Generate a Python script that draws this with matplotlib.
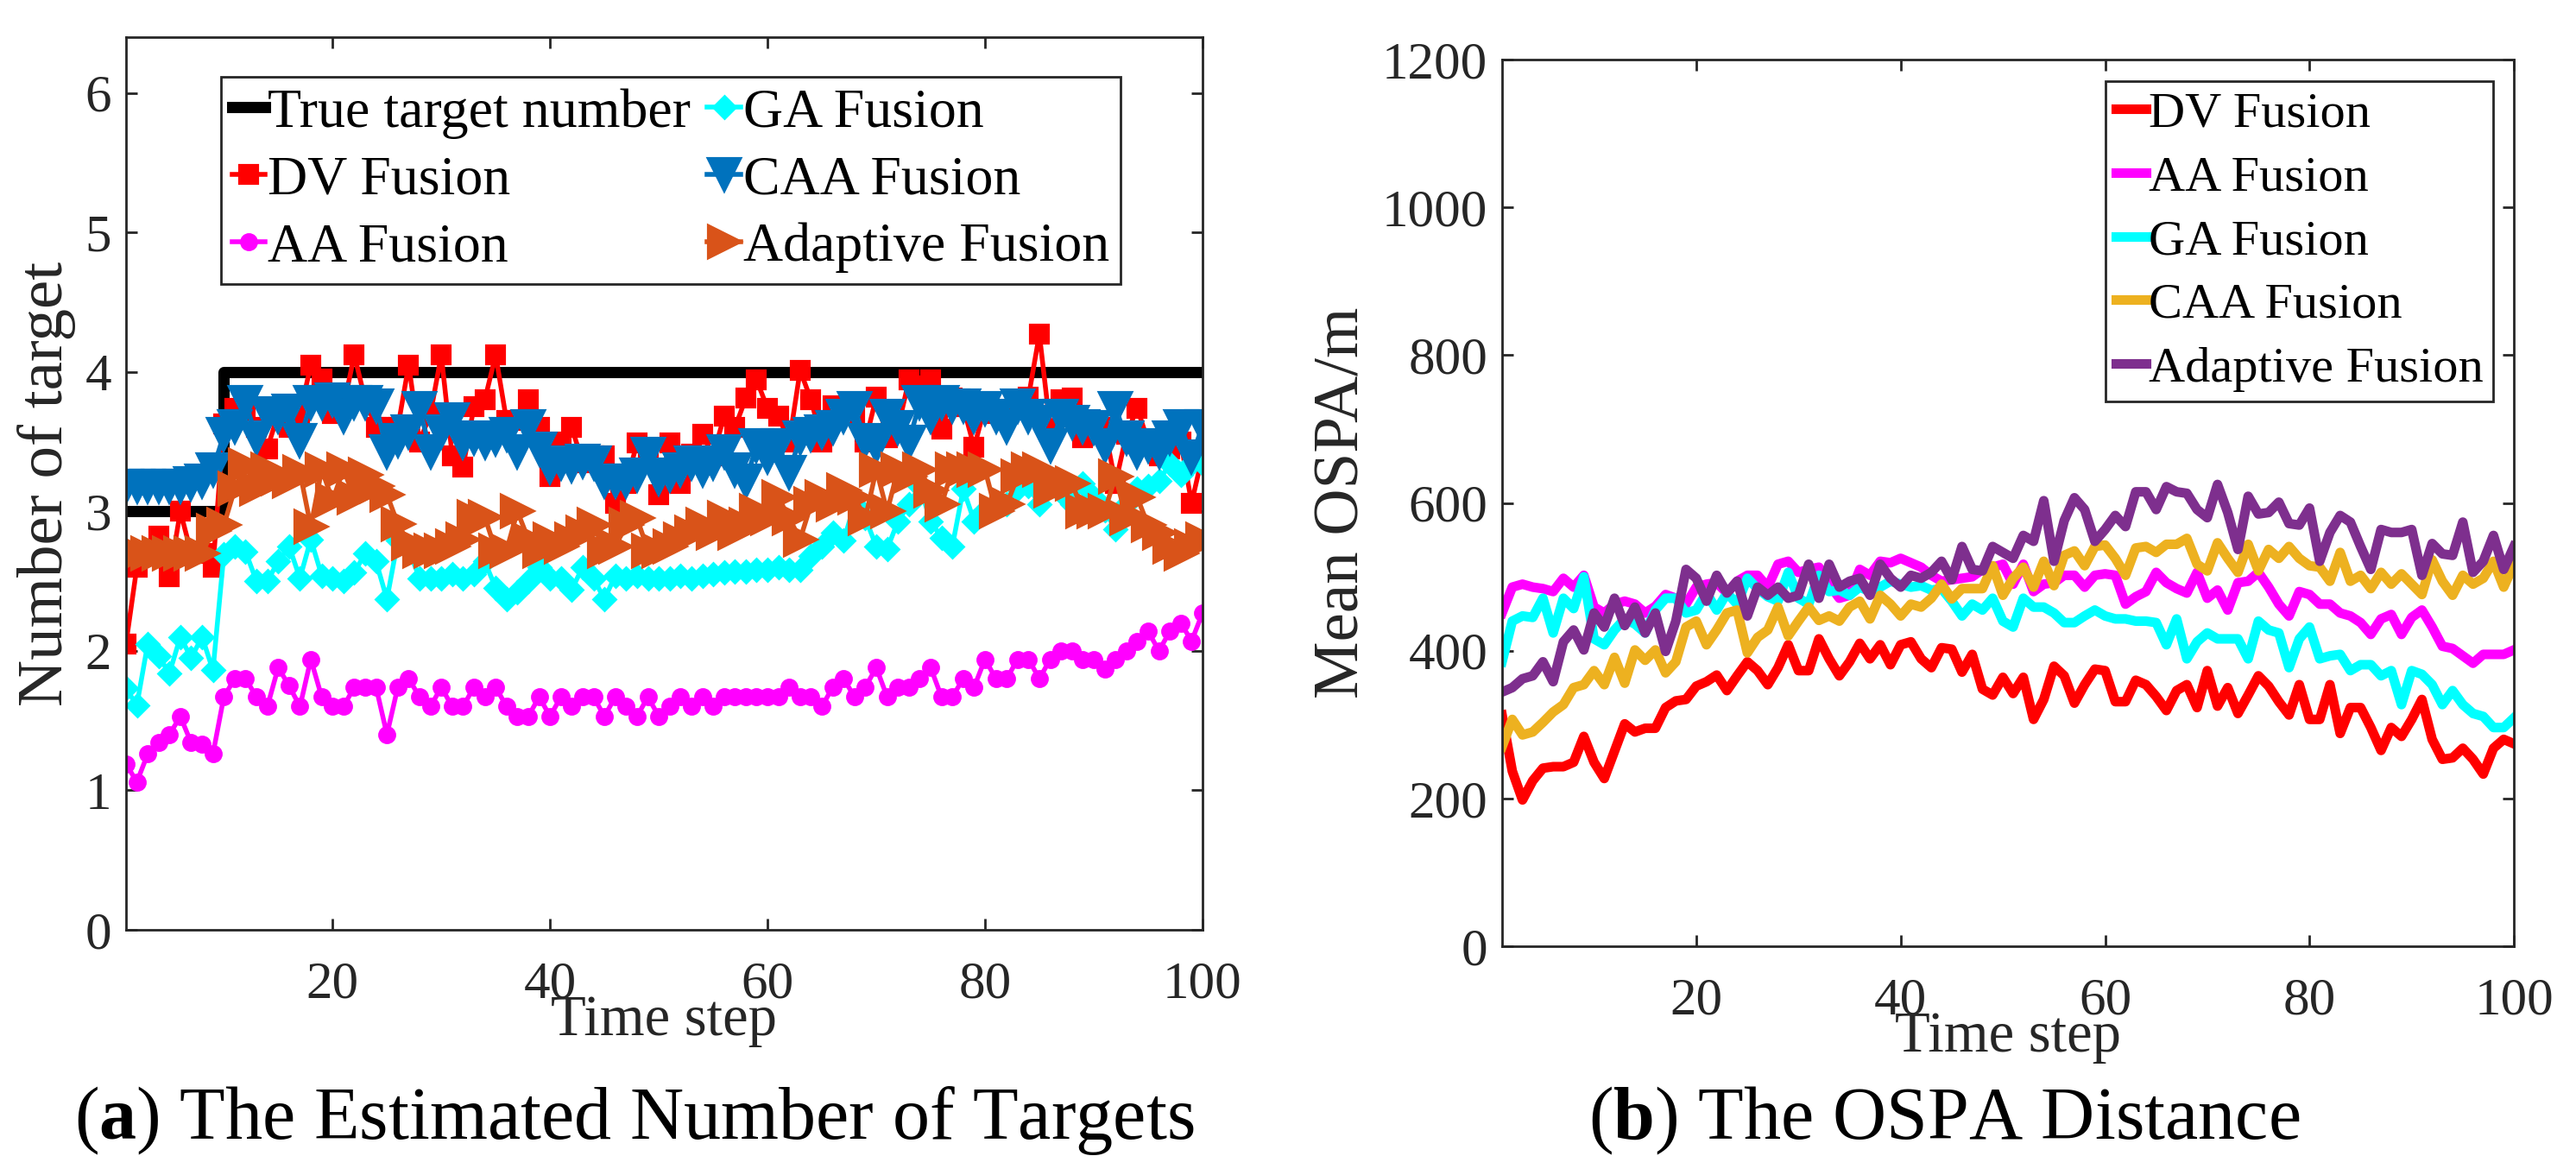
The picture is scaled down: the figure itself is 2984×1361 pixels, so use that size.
import matplotlib
matplotlib.use("Agg")
import matplotlib.pyplot as plt

# pas de temps
temps = list(range(1, 101))

# (a) nombre de cibles estime
vrai_nombre = [3] * 9 + [4] * 91
dv_nombre = [2.05, 2.6, 2.7, 2.82, 2.53, 3.0, 2.7, 2.7, 2.6, 3.63,
             3.74, 3.7, 3.6, 3.45, 3.7, 3.6, 3.7, 4.05, 3.95, 3.7,
             3.75, 4.12, 3.8, 3.6, 3.6, 3.6, 4.05, 3.5, 3.7, 4.12,
             3.4, 3.32, 3.75, 3.8, 4.12, 3.65, 3.65, 3.8, 3.6, 3.25,
             3.5, 3.6, 3.35, 3.4, 3.4, 3.06, 3.2, 3.49, 3.35, 3.12,
             3.49, 3.2, 3.41, 3.55, 3.4, 3.68, 3.6, 3.81, 3.94, 3.74,
             3.68, 3.5, 4.01, 3.8, 3.5, 3.76, 3.7, 3.7, 3.5, 3.82,
             3.53, 3.6, 3.94, 3.9, 3.94, 3.59, 3.81, 3.75, 3.46, 3.75,
             3.7, 3.7, 3.75, 3.82, 4.27, 3.59, 3.8, 3.81, 3.53, 3.55,
             3.6, 3.2, 3.55, 3.74, 3.5, 3.4, 3.45, 3.5, 3.06, 3.4]
aa_nombre = [1.19, 1.06, 1.26, 1.34, 1.40, 1.53, 1.34, 1.33, 1.26, 1.67,
             1.8, 1.8, 1.67, 1.6, 1.88, 1.75, 1.6, 1.94, 1.67, 1.6,
             1.6, 1.74, 1.74, 1.74, 1.40, 1.74, 1.8, 1.67, 1.6, 1.74,
             1.6, 1.6, 1.74, 1.67, 1.74, 1.6, 1.53, 1.53, 1.67, 1.53,
             1.67, 1.6, 1.67, 1.67, 1.53, 1.67, 1.6, 1.53, 1.67, 1.53,
             1.6, 1.67, 1.6, 1.67, 1.6, 1.67, 1.67, 1.67, 1.67, 1.67,
             1.67, 1.74, 1.67, 1.67, 1.6, 1.74, 1.8, 1.67, 1.74, 1.88,
             1.67, 1.74, 1.74, 1.8, 1.88, 1.67, 1.67, 1.8, 1.74, 1.94,
             1.8, 1.8, 1.94, 1.94, 1.8, 1.94, 2.0, 2.0, 1.94, 1.94,
             1.87, 1.94, 2.0, 2.07, 2.14, 2.0, 2.14, 2.2, 2.07, 2.27]
ga_nombre = [1.73, 1.61, 2.05, 1.96, 1.84, 2.1, 1.95, 2.1, 1.86, 2.69,
             2.75, 2.71, 2.5, 2.5, 2.64, 2.75, 2.52, 2.8, 2.54, 2.52,
             2.5, 2.56, 2.7, 2.64, 2.37, 2.79, 2.73, 2.52, 2.52, 2.52,
             2.55, 2.52, 2.55, 2.64, 2.45, 2.37, 2.42, 2.5, 2.6, 2.52,
             2.52, 2.44, 2.6, 2.52, 2.37, 2.54, 2.52, 2.54, 2.52, 2.52,
             2.52, 2.54, 2.52, 2.54, 2.55, 2.56, 2.57, 2.57, 2.58, 2.58,
             2.6, 2.58, 2.58, 2.68, 2.75, 2.85, 2.79, 3.05, 2.95, 2.75,
             2.73, 2.93, 3.05, 3.18, 2.93, 2.81, 2.75, 3.16, 2.93, 3.01,
             3.05, 3.05, 3.16, 3.18, 3.05, 3.18, 3.14, 3.05, 3.2, 3.1,
             3.01, 2.87, 3.05, 3.16, 3.18, 3.22, 3.34, 3.26, 3.34, 3.34]
caa_nombre = [3.18, 3.18, 3.18, 3.18, 3.18, 3.18, 3.2, 3.22, 3.3, 3.55,
              3.61, 3.78, 3.53, 3.7, 3.68, 3.72, 3.51, 3.78, 3.78, 3.8,
              3.68, 3.78, 3.78, 3.76, 3.43, 3.51, 3.57, 3.74, 3.43, 3.57,
              3.66, 3.5, 3.53, 3.5, 3.52, 3.55, 3.43, 3.61, 3.45, 3.32,
              3.35, 3.33, 3.36, 3.35, 3.22, 3.22, 3.22, 3.26, 3.41, 3.24,
              3.26, 3.3, 3.35, 3.3, 3.35, 3.43, 3.3, 3.22, 3.47, 3.39,
              3.47, 3.28, 3.53, 3.55, 3.57, 3.6, 3.68, 3.74, 3.51, 3.47,
              3.68, 3.6, 3.5, 3.78, 3.68, 3.78, 3.76, 3.76, 3.68, 3.74,
              3.68, 3.61, 3.76, 3.68, 3.64, 3.47, 3.68, 3.64, 3.61, 3.6,
              3.47, 3.74, 3.53, 3.43, 3.47, 3.43, 3.53, 3.61, 3.39, 3.61]
adapt_nombre = [2.7, 2.7, 2.7, 2.7, 2.7, 2.7, 2.7, 2.7, 2.86, 2.9,
                3.16, 3.33, 3.16, 3.3, 3.24, 3.22, 3.28, 2.89, 3.3, 3.08,
                3.3, 3.1, 3.26, 3.18, 3.12, 2.91, 2.77, 2.72, 2.72, 2.72,
                2.75, 2.8, 2.96, 2.96, 2.72, 2.72, 3.0, 2.8, 2.72, 2.8,
                2.75, 2.8, 2.85, 2.9, 2.72, 2.75, 2.9, 2.95, 2.72, 2.72,
                2.75, 2.8, 2.85, 2.9, 2.85, 2.95, 2.85, 2.9, 3.0, 2.95,
                3.1, 2.95, 2.8, 3.05, 3.1, 3.05, 3.15, 3.1, 2.95, 3.3,
                3.0, 3.3, 3.25, 3.3, 3.15, 3.05, 3.3, 3.3, 3.3, 3.3,
                3.0, 3.05, 3.25, 3.3, 3.3, 3.15, 3.2, 3.2, 3.0, 3.0,
                3.0, 3.25, 2.95, 3.1, 2.9, 2.85, 2.75, 2.7, 2.75, 2.8]

# (b) distance OSPA moyenne
dv_ospa = [313, 237, 198, 224, 241, 243, 243, 249, 284, 249,
           227, 264, 301, 290, 295, 295, 323, 332, 334, 352,
           358, 367, 346, 366, 385, 373, 354, 377, 408, 373,
           373, 416, 389, 366, 385, 410, 389, 408, 381, 408,
           412, 389, 377, 404, 402, 371, 395, 348, 340, 364,
           342, 364, 307, 334, 379, 366, 329, 354, 375, 373,
           331, 331, 360, 354, 338, 319, 346, 354, 323, 373,
           325, 350, 315, 340, 366, 352, 331, 313, 354, 307,
           307, 354, 288, 323, 323, 296, 265, 296, 284, 307,
           334, 280, 253, 255, 268, 253, 233, 268, 280, 274]
aa_ospa = [451, 486, 490, 486, 484, 480, 498, 486, 502, 459,
           451, 463, 467, 463, 451, 460, 476, 471, 463, 486,
           490, 492, 478, 494, 502, 502, 486, 517, 521, 506,
           510, 513, 490, 471, 475, 510, 502, 521, 519, 525,
           519, 513, 502, 494, 496, 498, 500, 510, 513, 517,
           490, 517, 480, 490, 492, 502, 502, 486, 502, 504,
           502, 463, 473, 480, 506, 492, 484, 478, 506, 471,
           482, 455, 492, 494, 506, 486, 463, 447, 480, 476,
           463, 463, 451, 447, 438, 422, 443, 449, 422, 445,
           455, 432, 406, 403, 393, 383, 395, 395, 395, 401]
ga_ospa = [385, 440, 447, 445, 471, 424, 471, 457, 500, 416,
           408, 428, 443, 436, 424, 455, 471, 471, 451, 455,
           478, 455, 478, 463, 498, 484, 473, 467, 506, 471,
           463, 502, 480, 482, 475, 486, 480, 486, 494, 490,
           486, 488, 482, 484, 467, 447, 463, 455, 471, 440,
           432, 471, 459, 459, 451, 438, 438, 447, 455, 447,
           443, 443, 440, 440, 438, 408, 443, 389, 412, 424,
           416, 416, 416, 389, 440, 428, 424, 377, 416, 432,
           389, 393, 395, 373, 381, 381, 366, 373, 327, 373,
           368, 354, 327, 346, 327, 315, 311, 296, 296, 309]
caa_ospa = [270, 307, 286, 290, 303, 317, 327, 350, 354, 373,
            354, 391, 356, 401, 387, 401, 370, 385, 432, 440,
            408, 428, 451, 455, 397, 418, 428, 459, 420, 440,
            459, 441, 447, 440, 459, 467, 443, 475, 463, 447,
            463, 459, 471, 490, 470, 484, 484, 484, 515, 475,
            498, 513, 486, 521, 488, 529, 535, 515, 541, 543,
            525, 502, 539, 541, 533, 544, 544, 552, 517, 508,
            546, 525, 506, 544, 508, 537, 525, 541, 525, 515,
            513, 494, 533, 494, 502, 484, 506, 490, 504, 490,
            476, 523, 494, 475, 502, 490, 498, 521, 486, 517]
adapt_ospa = [344, 350, 362, 366, 385, 358, 412, 428, 401, 451,
              432, 471, 434, 459, 424, 451, 399, 440, 510, 498,
              467, 502, 478, 494, 447, 486, 475, 486, 471, 475,
              517, 471, 517, 486, 494, 498, 475, 517, 498, 486,
              502, 498, 506, 521, 496, 541, 510, 508, 541, 533,
              525, 556, 548, 603, 521, 576, 607, 591, 548, 564,
              583, 568, 615, 615, 591, 622, 615, 613, 591, 580,
              625, 587, 537, 609, 585, 587, 601, 572, 570, 593,
              521, 560, 583, 574, 541, 510, 564, 560, 560, 564,
              502, 545, 531, 529, 574, 506, 521, 556, 510, 541]

# Style general (proche du rendu MATLAB)
plt.rcParams["font.family"] = "Liberation Serif"
plt.rcParams["mathtext.fontset"] = "custom"
plt.rcParams["mathtext.rm"] = "Liberation Serif"
plt.rcParams["mathtext.bf"] = "Liberation Serif:bold"
gris = "#262626"

fig = plt.figure(figsize=(14.92, 6.805), dpi=200)
ax1 = fig.add_axes([0.0489, 0.2087, 0.4179, 0.7597])
ax2 = fig.add_axes([0.5831, 0.1947, 0.3928, 0.7546])

# 1. Nombre de cibles
ax1.plot(temps, vrai_nombre, color="black", lw=4.7, drawstyle="steps-post",
         label="True target number")
ax1.plot(temps, dv_nombre, color="#FF0000", lw=2, marker="s", ms=7.5, mew=1.5,
         label="DV Fusion")
ax1.plot(temps, aa_nombre, color="#FF00FF", lw=2, marker="o", ms=6.5, mew=1,
         label="AA Fusion")
ax1.plot(temps, ga_nombre, color="#00FFFF", lw=2, marker="D", ms=6.5, mew=1,
         label="GA Fusion")
ax1.plot(temps, caa_nombre, color="#0072BD", lw=2, marker="v", ms=13, mew=1.5,
         label="CAA Fusion")
ax1.plot(temps, adapt_nombre, color="#D95319", lw=2, marker=">", ms=13, mew=1.5,
         label="Adaptive Fusion")
ax1.set_xlim(1, 100)
ax1.set_ylim(0, 6.4)
ax1.set_yticks([0, 1, 2, 3, 4, 5, 6])
ax1.set_xticks([20, 40, 60, 80, 100])
ax1.set_xlabel("Time step", fontsize=24, color=gris, labelpad=-6)
ax1.set_ylabel("Number of target", fontsize=27, color=gris)
leg1 = ax1.legend(ncol=2, loc="upper left", bbox_to_anchor=(0.0858, 0.9346),
                  bbox_transform=fig.transFigure, fontsize=23, numpoints=1,
                  handlelength=0.6, handletextpad=0.05, columnspacing=0.3,
                  labelspacing=0.3, borderpad=0.2, borderaxespad=0,
                  fancybox=False, framealpha=1)
leg1.get_frame().set_edgecolor(gris)
leg1.get_frame().set_linewidth(1)

# 2. Distance OSPA
ax2.plot(temps, dv_ospa, color="#FF0000", lw=4, label="DV Fusion")
ax2.plot(temps, aa_ospa, color="#FF00FF", lw=4, label="AA Fusion")
ax2.plot(temps, ga_ospa, color="#00FFFF", lw=4, label="GA Fusion")
ax2.plot(temps, caa_ospa, color="#EDB120", lw=4, label="CAA Fusion")
ax2.plot(temps, adapt_ospa, color="#7E2F8E", lw=4, label="Adaptive Fusion")
ax2.set_xlim(1, 100)
ax2.set_ylim(0, 1200)
ax2.set_yticks([0, 200, 400, 600, 800, 1000, 1200])
ax2.set_xticks([20, 40, 60, 80, 100])
ax2.set_xlabel("Time step", fontsize=24, color=gris, labelpad=-6)
ax2.set_ylabel("Mean OSPA/m", fontsize=27, color=gris)
leg2 = ax2.legend(loc="upper left", bbox_to_anchor=(0.8174, 0.931),
                  bbox_transform=fig.transFigure, fontsize=21,
                  handlelength=0.6, handletextpad=0.05, labelspacing=0.36,
                  borderpad=0.2, borderaxespad=0, fancybox=False, framealpha=1)
leg2.get_frame().set_edgecolor(gris)
leg2.get_frame().set_linewidth(1)

for ax in (ax1, ax2):
    ax.tick_params(direction="in", top=True, right=True, length=4.8, width=1,
                   labelsize=22, colors=gris, pad=6)
    ax.tick_params(axis="x", pad=13)
    for s in ax.spines.values():
        s.set_color(gris)
        s.set_linewidth(1)

# legendes des sous-figures
fig.text(0.2463, 0.0463, r"($\mathbf{a}$) The Estimated Number of Targets",
         fontsize=31, ha="center", va="center")
fig.text(0.7547, 0.0463, r"($\mathbf{b}$) The OSPA Distance",
         fontsize=31, ha="center", va="center")

fig.savefig("out.png", dpi=200)
